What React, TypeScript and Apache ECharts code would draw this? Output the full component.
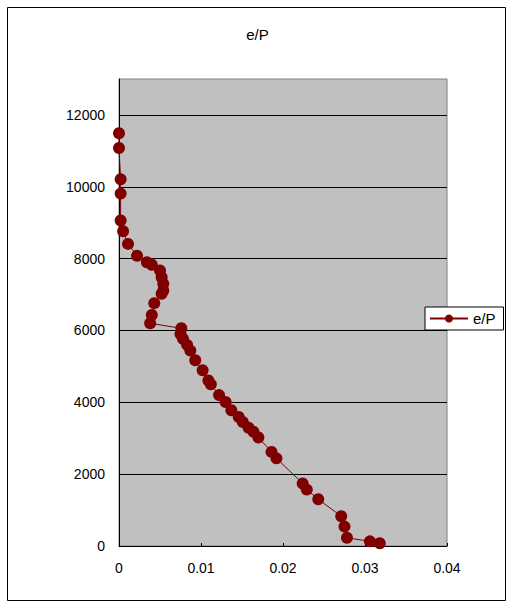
import React, { useEffect, useRef } from "react";
import * as echarts from "echarts";

const seriesName = "e/P";
const xValues = [
  0, 0, 0.0002, 0.0002, 0.0002, 0.0005, 0.0011, 0.0022, 0.0034, 0.004,
  0.005, 0.0052, 0.0054, 0.0054, 0.0052, 0.0043, 0.004, 0.0038, 0.0076, 0.0075,
  0.0078, 0.0083, 0.0087, 0.0093, 0.0102, 0.0109, 0.0112, 0.0122, 0.013, 0.0137,
  0.0146, 0.0151, 0.0158, 0.0164, 0.017, 0.0186, 0.0192, 0.0224, 0.0229, 0.0243,
  0.0271, 0.0275, 0.0278, 0.0306, 0.0318,
];
const yValues = [
  11490, 11080, 10210, 9810, 9060, 8760, 8410, 8080, 7900, 7830,
  7670, 7480, 7300, 7110, 7020, 6760, 6430, 6200, 6060, 5900,
  5770, 5600, 5440, 5170, 4890, 4610, 4500, 4200, 4010, 3780,
  3590, 3450, 3290, 3180, 3020, 2620, 2440, 1740, 1570, 1300,
  830, 540, 230, 130, 75,
];
const xTicks = [0, 0.01, 0.02, 0.03, 0.04];
const yTicks = [0, 2000, 4000, 6000, 8000, 10000, 12000];

const FONT = "'Liberation Sans', Arial, sans-serif";

export default function App() {
  const ref = useRef<HTMLDivElement>(null);
  useEffect(() => {
    if (!ref.current) return;
    const chart = echarts.init(ref.current, undefined, { renderer: "svg" });
    const data = xValues.map((x, i) => [x, yValues[i]]);
    chart.setOption({
      animation: false,
      backgroundColor: "#ffffff",
      graphic: [
        {
          type: "rect",
          shape: { x: 7.5, y: 7.5, width: 498, height: 593 },
          style: { fill: "none", stroke: "#000000", lineWidth: 1 },
          z: -10,
        },
      ],
      title: {
        text: "e/P",
        left: "center",
        top: 22,
        textStyle: { fontFamily: FONT, fontSize: 15, fontWeight: "normal", color: "#000" },
      },
      legend: {
        left: 425,
        top: 307,
        orient: "vertical",
        backgroundColor: "#ffffff",
        borderColor: "#000000",
        borderWidth: 1,
        borderRadius: 0,
        padding: [4, 8, 4, 4],
        itemWidth: 38,
        itemHeight: 10,
        itemGap: 0,
        textStyle: { fontFamily: FONT, fontSize: 15, color: "#000" },
        data: [seriesName],
      },
      grid: {
        left: 119,
        top: 79,
        right: 68,
        bottom: 62,
        show: true,
        backgroundColor: "#C0C0C0",
        borderColor: "#808080",
        borderWidth: 1,
      },
      xAxis: {
        type: "value",
        min: xTicks[0],
        max: xTicks[xTicks.length - 1],
        interval: 0.01,
        axisLine: { show: true, onZero: false, lineStyle: { color: "#000", width: 1 } },
        axisTick: { show: true, inside: true, length: 3, lineStyle: { color: "#000" } },
        splitLine: { show: false },
        axisLabel: {
          margin: 15,
          fontFamily: FONT,
          fontSize: 14,
          color: "#000",
          formatter: (v: number) => String(parseFloat(v.toFixed(4))),
        },
      },
      yAxis: {
        type: "value",
        min: yTicks[0],
        max: 13000,
        interval: 2000,
        axisLine: { show: true, lineStyle: { color: "#000", width: 1 } },
        axisTick: { show: true, inside: true, length: 3, lineStyle: { color: "#000" } },
        splitLine: { show: true, showMaxLine: false, lineStyle: { color: "#000", width: 1 } },
        axisLabel: {
          margin: 14,
          fontFamily: FONT,
          fontSize: 14,
          color: "#000",
          showMaxLabel: false,
          formatter: (v: number) => (yTicks.includes(v) ? String(v) : ""),
        },
      },
      series: [
        {
          name: seriesName,
          type: "line",
          data,
          symbol: "circle",
          symbolSize: 12,
          lineStyle: { color: "#800000", width: 1 },
          itemStyle: { color: "#800000" },
          emphasis: { disabled: true },
        },
      ],
    });
    return () => chart.dispose();
  }, []);
  return (
    <div
      ref={ref}
      style={{ position: "absolute", left: 0, top: 0, width: 515, height: 608 }}
    />
  );
}
